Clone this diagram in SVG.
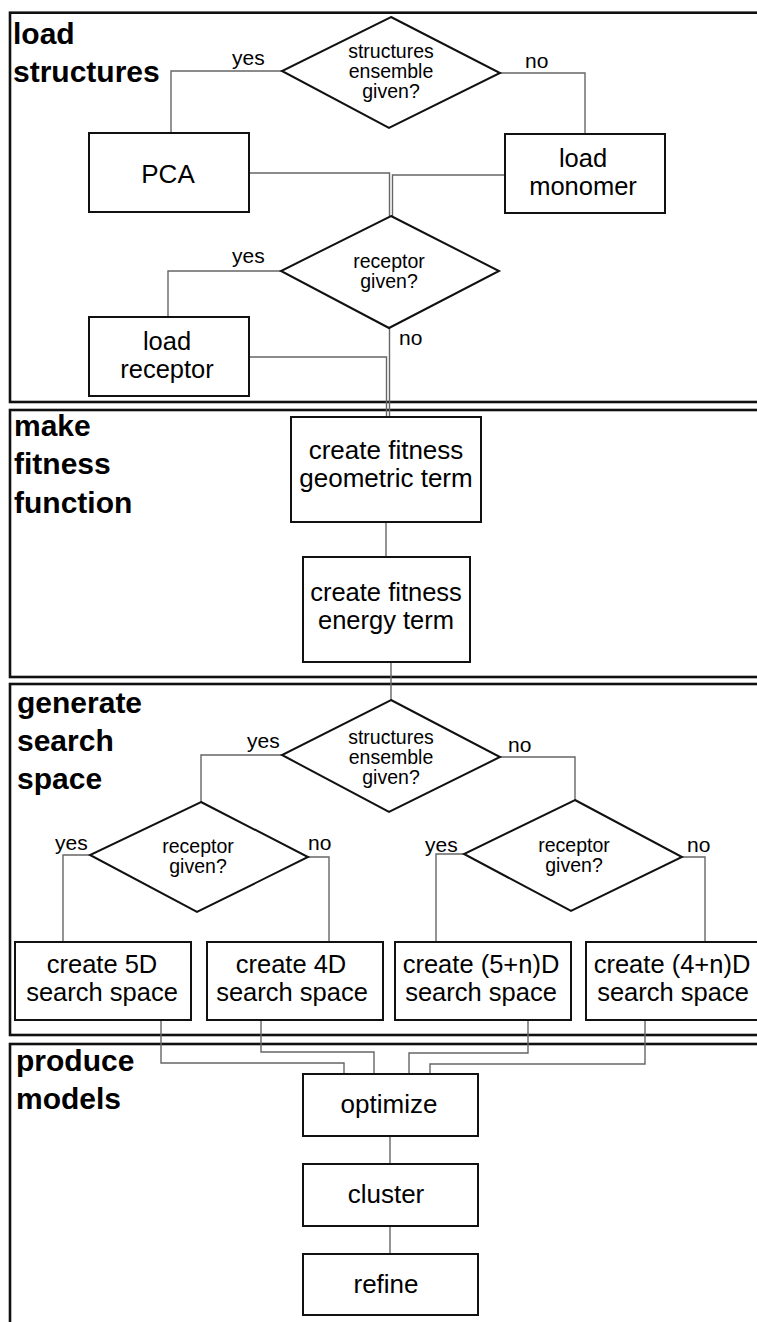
<svg xmlns="http://www.w3.org/2000/svg" width="757" height="1322" viewBox="0 0 757 1322">
<style>
.frame{fill:none;stroke:#111;stroke-width:2.6}
.box{fill:#fff;stroke:#111;stroke-width:2}
.dia{fill:#fff;stroke:#111;stroke-width:2}
.conn{fill:none;stroke:#666;stroke-width:1.4}
.sec{font-family:"Liberation Sans",Arial,sans-serif;font-weight:bold;font-size:30px;fill:#000}
.lbl{font-family:"Liberation Sans",Arial,sans-serif;font-size:26px;fill:#000;text-anchor:middle}
.ss{font-size:25.5px}
.dt{font-family:"Liberation Sans",Arial,sans-serif;font-size:19.5px;fill:#000;text-anchor:middle}
.yn{font-family:"Liberation Sans",Arial,sans-serif;font-size:21px;fill:#000}
</style>
<rect width="757" height="1322" fill="#fff"/>
<g id="frames">
<rect class="frame" x="10" y="12.7" width="760" height="389.3"/>
<rect class="frame" x="10" y="410" width="760" height="267"/>
<rect class="frame" x="10" y="684" width="760" height="351"/>
<rect class="frame" x="10" y="1044" width="760" height="300"/>
</g>
<g id="section-labels">
<text class="sec" x="13" y="44">load</text>
<text class="sec" x="13" y="82">structures</text>
<text class="sec" x="14" y="436">make</text>
<text class="sec" x="14" y="474">fitness</text>
<text class="sec" x="14" y="513">function</text>
<text class="sec" x="17" y="713">generate</text>
<text class="sec" x="17" y="751">search</text>
<text class="sec" x="17" y="789">space</text>
<text class="sec" x="16" y="1071">produce</text>
<text class="sec" x="16" y="1109">models</text>
</g>
<g id="connectors">
<path class="conn" d="M282,71 H171 V133"/>
<path class="conn" d="M500,73 H585 V134"/>
<path class="conn" d="M249,173 H389.5 V216"/>
<path class="conn" d="M505,175 H392.5 V216"/>
<path class="conn" d="M281,271 H168 V317"/>
<path class="conn" d="M249,357 H386.5 V417"/>
<path class="conn" d="M389.5,328 V417"/>
<path class="conn" d="M386,522 V557"/>
<path class="conn" d="M391,662 V700"/>
<path class="conn" d="M282,755 H201 V802"/>
<path class="conn" d="M500,757 H575 V800"/>
<path class="conn" d="M90,855 H63 V942"/>
<path class="conn" d="M308,857 H329 V942"/>
<path class="conn" d="M464,854 H436 V942"/>
<path class="conn" d="M682,857 H705 V942"/>
<path class="conn" d="M161,1020 V1063 H344 V1074"/>
<path class="conn" d="M261,1020 V1052 H374 V1074"/>
<path class="conn" d="M528,1020 V1053 H409 V1074"/>
<path class="conn" d="M645,1020 V1064 H430 V1074"/>
<path class="conn" d="M390,1136 V1164"/>
<path class="conn" d="M390,1226 V1254"/>
</g>
<g id="labels">
<text class="yn" x="232" y="65">yes</text>
<text class="yn" x="525" y="68">no</text>
<text class="yn" x="232" y="263">yes</text>
<text class="yn" x="399" y="345">no</text>
<text class="yn" x="247" y="748">yes</text>
<text class="yn" x="508" y="752">no</text>
<text class="yn" x="55" y="850">yes</text>
<text class="yn" x="308" y="850">no</text>
<text class="yn" x="425" y="852">yes</text>
<text class="yn" x="687" y="852">no</text>
</g>
<g id="d-ensemble-1">
<polygon class="dia" points="391,17 500,73 389,128 282,71"/>
<text class="dt" x="391" y="58">structures</text>
<text class="dt" x="391" y="78">ensemble</text>
<text class="dt" x="391" y="98">given?</text>
</g>
<g id="n-pca">
<rect class="box" x="89" y="133" width="160" height="79"/>
<text class="lbl" x="168" y="183">PCA</text>
</g>
<g id="n-load-monomer">
<rect class="box" x="505" y="134" width="160" height="79"/>
<text class="lbl ss" x="583" y="167">load</text>
<text class="lbl ss" x="583" y="195">monomer</text>
</g>
<g id="d-receptor-1">
<polygon class="dia" points="391,216 499,271 389,328 281,271"/>
<text class="dt" x="389" y="268">receptor</text>
<text class="dt" x="389" y="288">given?</text>
</g>
<g id="n-load-receptor">
<rect class="box" x="89" y="317" width="160" height="79"/>
<text class="lbl ss" x="167" y="350">load</text>
<text class="lbl ss" x="167" y="378">receptor</text>
</g>
<g id="n-geometric">
<rect class="box" x="291" y="417" width="190" height="105"/>
<text class="lbl" x="386" y="459">create fitness</text>
<text class="lbl" x="386" y="487">geometric term</text>
</g>
<g id="n-energy">
<rect class="box" x="303" y="557" width="167" height="105"/>
<text class="lbl ss" x="386" y="601">create fitness</text>
<text class="lbl ss" x="386" y="629">energy term</text>
</g>
<g id="d-ensemble-2">
<polygon class="dia" points="391,700 500,757 389,812 282,755"/>
<text class="dt" x="391" y="744">structures</text>
<text class="dt" x="391" y="764">ensemble</text>
<text class="dt" x="391" y="784">given?</text>
</g>
<g id="d-receptor-2">
<polygon class="dia" points="201,802 308,857 197,912 90,855"/>
<text class="dt" x="198" y="853">receptor</text>
<text class="dt" x="198" y="873">given?</text>
</g>
<g id="d-receptor-3">
<polygon class="dia" points="575,800 682,857 571,911 464,854"/>
<text class="dt" x="574" y="852">receptor</text>
<text class="dt" x="574" y="872">given?</text>
</g>
<g id="n-5d">
<rect class="box" x="15" y="942" width="176" height="78"/>
<text class="lbl ss" x="102" y="973">create 5D</text>
<text class="lbl ss" x="102" y="1001">search space</text>
</g>
<g id="n-4d">
<rect class="box" x="207" y="942" width="176" height="78"/>
<text class="lbl ss" x="291" y="973">create 4D</text>
<text class="lbl ss" x="292" y="1001">search space</text>
</g>
<g id="n-5nd">
<rect class="box" x="395" y="942" width="176" height="78"/>
<text class="lbl ss" x="481" y="973">create (5+n)D</text>
<text class="lbl ss" x="481" y="1001">search space</text>
</g>
<g id="n-4nd">
<rect class="box" x="586" y="942" width="185" height="78"/>
<text class="lbl ss" x="672" y="973">create (4+n)D</text>
<text class="lbl ss" x="673" y="1001">search space</text>
</g>
<g id="n-optimize">
<rect class="box" x="303" y="1074" width="175" height="62"/>
<text class="lbl" x="389" y="1113">optimize</text>
</g>
<g id="n-cluster">
<rect class="box" x="303" y="1164" width="175" height="62"/>
<text class="lbl" x="386" y="1203">cluster</text>
</g>
<g id="n-refine">
<rect class="box" x="303" y="1254" width="175" height="61"/>
<text class="lbl" x="386" y="1293">refine</text>
</g>
</svg>
